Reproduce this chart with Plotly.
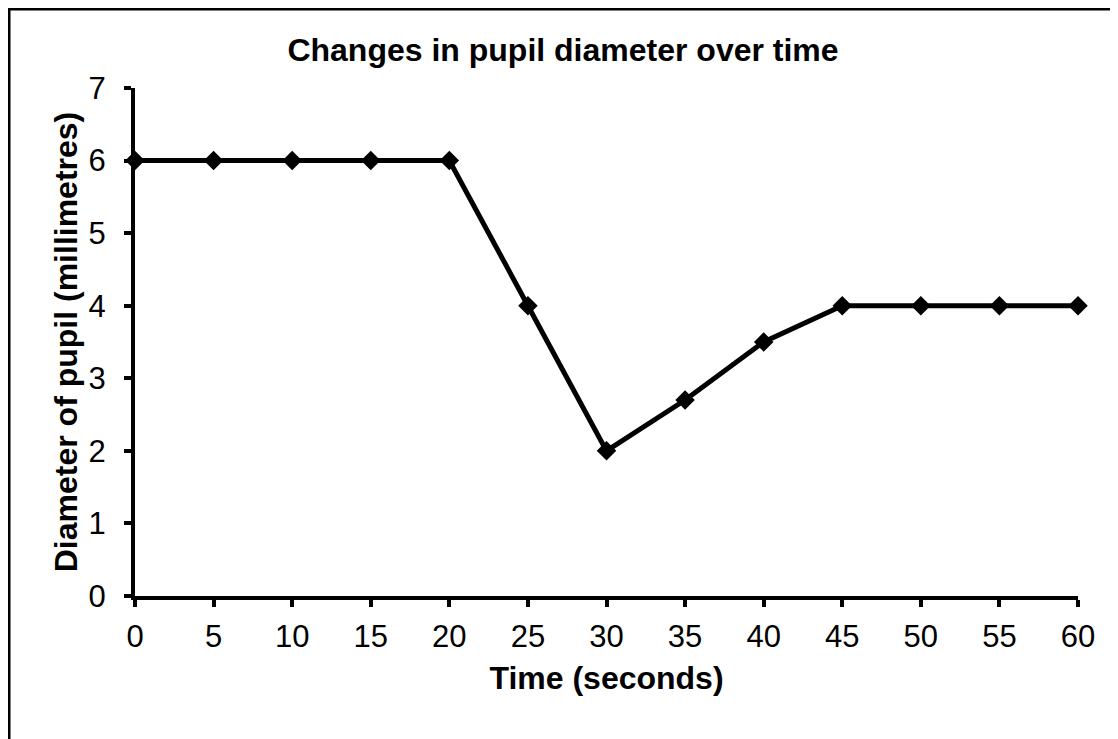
import plotly.graph_objects as go

time_s = [0, 5, 10, 15, 20, 25, 30, 35, 40, 45, 50, 55, 60]
diameter_mm = [6, 6, 6, 6, 6, 4, 2, 2.7, 3.5, 4, 4, 4, 4]
title_text = "Changes in pupil diameter over time"
x_title = "Time (seconds)"
y_title = "Diameter of pupil (millimetres)"

# figure is drawn 8px in from the page corner (body margin)
W, H = 1110, 731
L, R, T, B = 127, 40, 80, 143
pw, ph = W - L - R, H - T - B

def px_x(p):
    return (p - L) / pw

def px_y(p):
    return 1 - (p - T) / ph

FONT = "Liberation Sans, Arial, sans-serif"

fig = go.Figure(go.Scatter(
    x=time_s, y=diameter_mm, mode="lines+markers",
    line=dict(color="black", width=5),
    marker=dict(symbol="diamond", size=15, color="black"),
    cliponaxis=False,
))

axis_common = dict(
    showgrid=False, zeroline=False, showline=True, linecolor="black", linewidth=4,
    ticks="outside", ticklen=7, tickwidth=4, tickcolor="black",
    tickfont=dict(family=FONT, size=31, color="black"),
)

fig.update_layout(
    width=W, height=H,
    margin=dict(l=L, r=R, t=T, b=B),
    paper_bgcolor="white", plot_bgcolor="white",
    showlegend=False,
    title=dict(text="<b>" + title_text + "</b>", x=0.5, xanchor="center",
               y=1 - 42 / H, yanchor="middle",
               font=dict(family=FONT, size=32, color="black")),
    xaxis=dict(range=[0, 60], tickmode="array", tickvals=time_s,
               ticklabelstandoff=3,
               title=dict(text="<b>" + x_title + "</b>", standoff=14,
                          font=dict(family=FONT, size=32, color="black")),
               **axis_common),
    yaxis=dict(range=[0, 7], tickmode="linear", tick0=0, dtick=1,
               ticklabelstandoff=12,
               title=dict(text="<b>" + y_title + "</b>", standoff=2,
                          font=dict(family=FONT, size=32, color="black")),
               **axis_common),
    shapes=[
        dict(type="line", xref="paper", yref="paper",
             x0=px_x(0.75), x1=px_x(0.75), y0=px_y(-1), y1=px_y(H + 5),
             line=dict(color="black", width=3.5)),
        dict(type="line", xref="paper", yref="paper",
             x0=px_x(-1), x1=px_x(W + 5), y0=px_y(0.75), y1=px_y(0.75),
             line=dict(color="black", width=3.5)),
    ],
)

fig.write_html("out.html")
